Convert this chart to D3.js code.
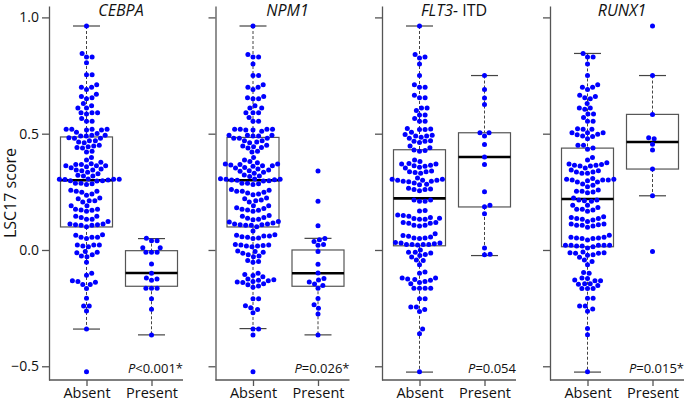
<!DOCTYPE html>
<html>
<head>
<meta charset="utf-8">
<script src="https://cdn.jsdelivr.net/npm/d3@7"></script>
<style>
  html, body { margin: 0; padding: 0; background: #fff; }
  svg { display: block; font-family: "Open Sans", "Noto Sans", sans-serif; }
</style>
</head>
<body>
<svg width="685" height="403"></svg>
<script>
// values (LSC17 score per patient)
const cebpaAbsent = [
  0.963, 0.845, 0.83, 0.83, 0.805, 0.753, 0.753,
  0.71, 0.70, 0.70, 0.69, 0.67, 0.66, 0.655, 0.65,
  0.63, 0.62, 0.61, 0.61, 0.59, 0.59, 0.59, 0.585, 0.565, 0.553, 0.553,
  0.519, 0.516, 0.506, 0.516, 0.519, 0.519, 0.519,
  0.493, 0.48, 0.483, 0.48, 0.49, 0.501, 0.49, 0.493,
  0.47, 0.461, 0.464, 0.47, 0.441, 0.438, 0.444, 0.447, 0.45,
  0.421, 0.424, 0.398,
  0.387, 0.377, 0.368, 0.368, 0.362, 0.371, 0.362, 0.348, 0.354, 0.358, 0.362,
  0.341, 0.334, 0.344, 0.344, 0.328, 0.318, 0.318, 0.321,
  0.304, 0.303, 0.298, 0.297, 0.301, 0.298, 0.304, 0.304, 0.305,
  0.287, 0.282, 0.285, 0.287,
  0.257, 0.248, 0.241, 0.235, 0.252, 0.252,
  0.223, 0.22, 0.212, 0.206, 0.212,
  0.19, 0.19, 0.175, 0.171, 0.166, 0.172, 0.175,
  0.145, 0.145, 0.132, 0.14, 0.132,
  0.123, 0.112, 0.109, 0.106, 0.1, 0.106, 0.112, 0.109,
  0.055, 0.055, 0.049, 0.055, 0.063, 0.066,
  0.021, 0.017, 0.021, 0.014, 0.021,
  -0.006, -0.012, -0.029, -0.026, -0.021, -0.01, -0.053,
  -0.1, -0.109, -0.132, -0.148, -0.148, -0.136, -0.139, -0.166,
  -0.208, -0.241, -0.241, -0.262, -0.34, -0.524
];
const cebpaPresent = [
  0.05, 0.04, 0.04, 0.01, 0.01, -0.01, -0.01, -0.01, -0.06, -0.10,
  -0.12, -0.13, -0.125, -0.165, -0.165, -0.165, -0.21, -0.255, -0.365
];
const npm1Absent = [
  0.963, 0.84, 0.83, 0.83, 0.80, 0.75, 0.75,
  0.71, 0.70, 0.70, 0.69, 0.66, 0.655, 0.65, 0.65,
  0.62, 0.61, 0.61, 0.59, 0.59, 0.59, 0.57, 0.553, 0.553,
  0.519, 0.516, 0.51, 0.516, 0.519, 0.519, 0.519,
  0.493, 0.48, 0.48, 0.48, 0.49, 0.493, 0.49, 0.493,
  0.47, 0.461, 0.464, 0.47, 0.441, 0.438, 0.444, 0.447, 0.45,
  0.421, 0.424, 0.398,
  0.387, 0.38, 0.375, 0.37, 0.368, 0.365, 0.362, 0.36, 0.355, 0.352, 0.348, 0.37, 0.362,
  0.344, 0.341, 0.338, 0.334, 0.33, 0.322, 0.318, 0.316,
  0.306, 0.304, 0.302, 0.30, 0.298, 0.297, 0.301, 0.304, 0.305,
  0.287, 0.282, 0.285, 0.287,
  0.257, 0.252, 0.248, 0.245, 0.241, 0.238, 0.252, 0.26,
  0.223, 0.22, 0.215, 0.212, 0.206,
  0.19, 0.19, 0.182, 0.178, 0.175, 0.171, 0.166, 0.172,
  0.148, 0.145, 0.14, 0.136, 0.132, 0.13,
  0.123, 0.12, 0.116, 0.112, 0.109, 0.106, 0.1, 0.106, 0.112, 0.109, 0.082,
  0.066, 0.063, 0.06, 0.057, 0.055, 0.052, 0.049, 0.06,
  0.024, 0.021, 0.019, 0.017, 0.014, 0.017, 0.021,
  -0.004, -0.006, -0.01, -0.014, -0.02, -0.026, -0.029,
  -0.045, -0.053, -0.05, -0.1, -0.105, -0.11, -0.115,
  -0.125, -0.128, -0.13, -0.132, -0.135, -0.138, -0.14, -0.145, -0.15, -0.155, -0.16,
  -0.21, -0.21, -0.24, -0.248, -0.256, -0.27, -0.34, -0.34, -0.365, -0.524
];
const npm1Present = [
  0.34, 0.21, 0.104, 0.049, 0.044, 0.037, 0.024, 0.02, -0.007, -0.061, -0.099,
  -0.123, -0.129, -0.138, -0.146, -0.153, -0.165, -0.209, -0.236, -0.251, -0.275, -0.365
];
const flt3Absent = [
  0.963, 0.84, 0.83, 0.825, 0.80, 0.75, 0.71, 0.70, 0.70,
  0.665, 0.655, 0.655, 0.61, 0.61, 0.60, 0.58, 0.58, 0.565, 0.553, 0.553,
  0.522, 0.518, 0.506, 0.518, 0.52,
  0.496, 0.49, 0.48, 0.49, 0.493, 0.485,
  0.462, 0.467, 0.467, 0.47, 0.447, 0.43, 0.425, 0.428, 0.44,
  0.37, 0.36, 0.352, 0.37, 0.372, 0.38, 0.387, 0.356, 0.362, 0.364,
  0.34, 0.336, 0.333, 0.336, 0.33,
  0.304, 0.3, 0.296, 0.293, 0.296, 0.3, 0.3, 0.304, 0.31,
  0.283, 0.28, 0.288, 0.26, 0.255, 0.26, 0.262, 0.265,
  0.21, 0.21, 0.215, 0.215, 0.168, 0.148, 0.15, 0.17,
  0.132, 0.118, 0.132, 0.136, 0.135, 0.14, 0.145,
  0.115, 0.118, 0.106, 0.103, 0.106, 0.115,
  0.07, 0.056, 0.052, 0.049, 0.052, 0.059, 0.062,
  0.032, 0.024, 0.024, 0.021, 0.03, 0.024, 0.027, 0.024, 0.03,
  0.0, -0.01, -0.013, -0.019, -0.024, -0.01, -0.03,
  -0.045, -0.043, -0.063,
  -0.125, -0.135, -0.13, -0.14, -0.12, -0.127, -0.1, -0.12, -0.095,
  -0.165, -0.165, -0.145, -0.165, -0.165,
  -0.21, -0.21, -0.245, -0.245, -0.256, -0.265, -0.34, -0.36, -0.524
];
const flt3Present = [
  0.75, 0.69, 0.653, 0.626, 0.504, 0.504, 0.49, 0.453, 0.40, 0.367,
  0.25, 0.186, 0.192, 0.156, 0.009, -0.02, -0.018
];
const runx1Absent = [
  0.845, 0.83, 0.83, 0.80, 0.75, 0.70, 0.69, 0.70, 0.71,
  0.665, 0.655, 0.65, 0.66, 0.63, 0.61, 0.61, 0.605, 0.585, 0.585, 0.57, 0.553, 0.553,
  0.521, 0.504, 0.495, 0.519, 0.519, 0.498, 0.504, 0.504,
  0.478, 0.49, 0.488, 0.45, 0.433, 0.438, 0.45, 0.398,
  0.364, 0.364, 0.344, 0.361, 0.367, 0.375, 0.387, 0.352, 0.361, 0.37,
  0.335, 0.341, 0.335, 0.33, 0.33,
  0.304, 0.301, 0.292, 0.292, 0.298, 0.301, 0.301, 0.304, 0.307,
  0.278, 0.272, 0.284, 0.252, 0.249, 0.246, 0.252, 0.258,
  0.223, 0.215, 0.212, 0.209, 0.215,
  0.192, 0.192, 0.183, 0.175, 0.172, 0.166, 0.175,
  0.143, 0.135, 0.132, 0.129, 0.135, 0.14,
  0.123, 0.112, 0.106, 0.106, 0.098, 0.103, 0.112, 0.109,
  0.055, 0.052, 0.049, 0.043, 0.049, 0.055, 0.052, 0.063,
  0.02, 0.02, 0.017, 0.014, 0.009, 0.02, 0.017, 0.02, 0.02,
  -0.009, -0.014, -0.012, -0.031, -0.023, -0.014, -0.02, -0.012,
  -0.043, -0.049, -0.063,
  -0.097, -0.1, -0.12, -0.132, -0.129, -0.123, -0.132, -0.145, -0.147,
  -0.166, -0.166, -0.166, -0.153, -0.145,
  -0.208, -0.208, -0.241, -0.241, -0.254, -0.263, -0.338, -0.364, -0.524
];
const runx1Present = [0.963, 0.75, 0.583, 0.483, 0.478, 0.455, 0.43, 0.348, 0.233, -0.006];

// box stats: [lower whisker, q1, median, q3, upper whisker]
const cebpaBoxes = [[-0.34, 0.099, 0.30, 0.486, 0.963], [-0.365, -0.156, -0.099, -0.003, 0.049]];
const npm1Boxes = [[-0.338, 0.099, 0.30, 0.484, 0.963], [-0.365, -0.156, -0.10, 0.0, 0.05]];
const flt3Boxes = [[-0.525, 0.018, 0.222, 0.431, 0.963], [-0.024, 0.185, 0.40, 0.504, 0.75]];
const runx1Boxes = [[-0.525, 0.014, 0.219, 0.438, 0.845], [0.233, 0.348, 0.464, 0.583, 0.75]];

const categories = ["Absent", "Present"];
const titleItalic = ["CEBPA", "NPM1", "FLT3-", "RUNX1"];
const titlePlain = ["", "", " ITD", ""];
const pTexts = ["<0.001*", "=0.026*", "=0.054", "=0.015*"];
const yTicks = [-0.5, 0, 0.5, 1.0];

const panels = [
  { groups: [cebpaAbsent, cebpaPresent], boxes: cebpaBoxes },
  { groups: [npm1Absent, npm1Present], boxes: npm1Boxes },
  { groups: [flt3Absent, flt3Present], boxes: flt3Boxes },
  { groups: [runx1Absent, runx1Present], boxes: runx1Boxes }
];

const svg = d3.select("svg");
const panelX = [49, 215.5, 382, 550];
const panelW = 134;

const y = d3.scaleLinear().domain([-0.559, 1.049]).range([380, 6]);
const x = d3.scalePoint().domain(categories).range([37.5, 102.5]);

const boxHalf = 26, capHalf = 13.5, dotR = 2.5, gap = 5.6;

// simple swarm: place each point at the smallest offset that doesn't overlap
function swarm(values) {
  const pts = values.map(v => ({ v, py: y(v) })).sort((a, b) => a.v - b.v);
  const placed = [];
  pts.forEach(p => {
    const near = placed.filter(q => Math.abs(q.py - p.py) < gap);
    const cands = [0];
    near.forEach(q => {
      const dx = Math.sqrt(gap * gap - (q.py - p.py) ** 2);
      cands.push(q.dx + dx, q.dx - dx);
    });
    cands.sort((a, b) => Math.abs(a) - Math.abs(b));
    p.dx = cands.find(c => near.every(q => (q.dx - c) ** 2 + (q.py - p.py) ** 2 >= gap * gap - 1e-6));
    placed.push(p);
  });
  return pts;
}

panels.forEach((panel, i) => {
  const g = svg.append("g").attr("transform", `translate(${panelX[i]},0)`);

  // y axis, labels only on the first panel
  const ya = g.append("g").call(d3.axisLeft(y).tickValues(yTicks).tickSize(7).tickSizeOuter(0)
    .tickFormat(d3.format(".1f")));
  ya.select(".domain").attr("stroke", "#555").attr("stroke-width", 1.3);
  ya.selectAll(".tick line").attr("stroke", "#555").attr("stroke-width", 1.3);
  ya.selectAll(".tick text").attr("font-size", 14).attr("fill", "#111")
    .attr("font-family", "Open Sans").attr("x", -10);
  if (i !== 0) ya.selectAll(".tick text").remove();

  // x axis
  const xa = g.append("g").attr("transform", "translate(0,380)")
    .call(d3.axisBottom(x).tickSize(6));
  xa.select(".domain").remove();
  xa.selectAll(".tick line").attr("stroke", "#555").attr("stroke-width", 1.3);
  xa.selectAll(".tick text").attr("font-size", 14.5).attr("fill", "#111")
    .attr("font-family", "Open Sans").attr("dy", 0).attr("y", 18);
  g.append("line").attr("x1", 0).attr("x2", panelW).attr("y1", 380).attr("y2", 380)
    .attr("stroke", "#555").attr("stroke-width", 1.3);

  panel.boxes.forEach((b, j) => {
    const cx = x(categories[j]);
    const bg = g.append("g");
    bg.append("line").attr("x1", cx).attr("x2", cx).attr("y1", y(b[4])).attr("y2", y(b[3]))
      .attr("stroke", "#444").attr("stroke-dasharray", "3,2");
    bg.append("line").attr("x1", cx).attr("x2", cx).attr("y1", y(b[1])).attr("y2", y(b[0]))
      .attr("stroke", "#444").attr("stroke-dasharray", "3,2");
    [b[0], b[4]].forEach(w => {
      bg.append("line").attr("x1", cx - capHalf).attr("x2", cx + capHalf)
        .attr("y1", y(w)).attr("y2", y(w)).attr("stroke", "#444").attr("stroke-width", 1.2);
    });
    bg.append("rect").attr("x", cx - boxHalf).attr("width", boxHalf * 2)
      .attr("y", y(b[3])).attr("height", y(b[1]) - y(b[3]))
      .attr("fill", "white").attr("stroke", "#555").attr("stroke-width", 1.2);
    bg.append("line").attr("x1", cx - boxHalf).attr("x2", cx + boxHalf)
      .attr("y1", y(b[2])).attr("y2", y(b[2])).attr("stroke", "#000").attr("stroke-width", 2.6);
  });

  panel.groups.forEach((vals, j) => {
    const cx = x(categories[j]);
    g.append("g").selectAll("circle").data(swarm(vals)).join("circle")
      .attr("cx", d => cx + d.dx).attr("cy", d => d.py).attr("r", dotR).attr("fill", "#0000ff");
  });

  // title
  const t = g.append("text").attr("x", 72).attr("y", 16).attr("text-anchor", "middle")
    .attr("font-size", 16).attr("fill", "#111");
  t.append("tspan").attr("font-style", "italic").text(titleItalic[i]);
  if (titlePlain[i]) t.append("tspan").text(titlePlain[i]);

  // p value
  const p = g.append("text").attr("x", panelW).attr("y", 373).attr("text-anchor", "end")
    .attr("font-size", 13).attr("fill", "#111");
  p.append("tspan").attr("font-style", "italic").text("P");
  p.append("tspan").text(pTexts[i]);
});

svg.append("text").attr("transform", "translate(16,193) rotate(-90)")
  .attr("text-anchor", "middle").attr("font-size", 16).attr("fill", "#111").text("LSC17 score");
</script>
</body>
</html>
